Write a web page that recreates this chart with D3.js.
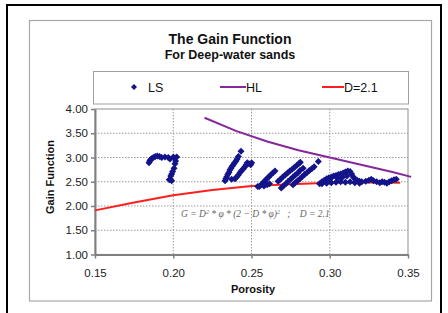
<!DOCTYPE html>
<html>
<head>
<meta charset="utf-8">
<script src="https://cdn.jsdelivr.net/npm/d3@7"></script>
<style>
  body { margin: 0; background: #fff; }
  svg { display: block; font-family: "Liberation Sans", Arial, sans-serif; }
</style>
</head>
<body>
<svg id="chart" width="448" height="313"></svg>
<script>
// tick labels
var xTicks = [0.15, 0.20, 0.25, 0.30, 0.35];
var yTicks = [1.00, 1.50, 2.00, 2.50, 3.00, 3.50, 4.00];

// LS scatter (porosity, gain)
var lsPhi = [
  0.1845, 0.1850, 0.1856, 0.1864, 0.1873, 0.1885, 0.1898, 0.1912, 0.1926, 0.1947, 0.1968, 0.1979, 0.2001, 0.2022,
  0.2015, 0.2011, 0.2005, 0.1996, 0.1990, 0.1984, 0.1979, 0.1990, 0.1975,
  0.2331, 0.2336, 0.2341, 0.2348, 0.2356, 0.2362, 0.2369, 0.2376, 0.2384, 0.2392, 0.2401, 0.2408, 0.2416, 0.2433,
  0.2373, 0.2395, 0.2405, 0.2416, 0.2427, 0.2437, 0.2448, 0.2458, 0.2466, 0.2473, 0.2484, 0.2495, 0.2501,
  0.2540, 0.2550, 0.2562, 0.2574, 0.2586, 0.2598, 0.2610, 0.2622, 0.2636, 0.2650, 0.2580, 0.2600, 0.2615,
  0.2670, 0.2685, 0.2700, 0.2715, 0.2730, 0.2745, 0.2760, 0.2775, 0.2790, 0.2805, 0.2812,
  0.2690, 0.2705, 0.2720, 0.2735, 0.2750, 0.2765, 0.2780, 0.2795, 0.2810, 0.2830,
  0.2765, 0.2780, 0.2795, 0.2810, 0.2825, 0.2840, 0.2855, 0.2870, 0.2885, 0.2900, 0.2927,
  0.2935, 0.2950, 0.2965, 0.2980, 0.2995, 0.3010, 0.3025, 0.3040, 0.3055, 0.3070, 0.3085, 0.3100, 0.3115, 0.3130,
  0.3140, 0.3150, 0.3160, 0.3175, 0.3190, 0.3205,
  0.2950, 0.2980, 0.3010, 0.3040, 0.3070, 0.3100, 0.3130, 0.3160, 0.3190,
  0.3000, 0.3050, 0.3080, 0.3110,
  0.3230, 0.3250, 0.3265, 0.3280, 0.3300, 0.3320, 0.3335, 0.3350, 0.3365, 0.3380, 0.3395, 0.3410, 0.3425
];
var lsGain = [
  2.89, 2.93, 2.96, 2.98, 3.00, 3.02, 3.03, 3.02, 3.00, 3.01, 3.00, 2.97, 3.01, 3.01,
  2.93, 2.87, 2.78, 2.71, 2.66, 2.62, 2.55, 2.52, 2.54,
  2.52, 2.56, 2.60, 2.65, 2.69, 2.74, 2.78, 2.82, 2.85, 2.89, 2.93, 2.97, 3.02, 3.13,
  2.55, 2.56, 2.60, 2.64, 2.69, 2.73, 2.77, 2.81, 2.85, 2.89, 2.87, 2.85, 2.89,
  2.40, 2.40, 2.44, 2.48, 2.52, 2.56, 2.60, 2.64, 2.68, 2.72, 2.41, 2.44, 2.46,
  2.51, 2.55, 2.60, 2.64, 2.68, 2.72, 2.76, 2.80, 2.84, 2.88, 2.90,
  2.37, 2.42, 2.46, 2.51, 2.55, 2.60, 2.64, 2.68, 2.73, 2.78,
  2.44, 2.48, 2.52, 2.56, 2.61, 2.65, 2.69, 2.73, 2.77, 2.81, 2.92,
  2.46, 2.50, 2.53, 2.56, 2.58, 2.60, 2.62, 2.63, 2.65, 2.66, 2.68, 2.70, 2.72, 2.71,
  2.66, 2.60, 2.56, 2.53, 2.51, 2.50,
  2.46, 2.47, 2.48, 2.49, 2.50, 2.49, 2.50, 2.48, 2.47,
  2.54, 2.57, 2.59, 2.62,
  2.51, 2.53, 2.55, 2.52, 2.50, 2.48, 2.50, 2.49, 2.47, 2.50, 2.52, 2.54, 2.55
];

// HL curve
var hlPhi  = [0.220, 0.240, 0.260, 0.280, 0.300, 0.320, 0.340, 0.352];
var hlGain = [3.82, 3.55, 3.33, 3.15, 3.00, 2.85, 2.70, 2.60];

// D=2.1 curve
var dPhi  = [0.150, 0.175, 0.200, 0.225, 0.250, 0.275, 0.300, 0.325, 0.345];
var dGain = [1.91, 2.07, 2.22, 2.33, 2.41, 2.45, 2.48, 2.49, 2.48];

var colLS = "#13138a", colHL = "#85289a", colD = "#ff1e1e";

var svg = d3.select("#chart");

// outer frame
svg.append("rect").attr("x", 7).attr("y", 5).attr("width", 434).attr("height", 320)
  .attr("fill", "#fff").attr("stroke", "#000").attr("stroke-width", 2);

// chart area
svg.append("rect").attr("x", 29.5).attr("y", 20.5).attr("width", 402).attr("height", 280.5)
  .attr("fill", "#fff").attr("stroke", "#a8a8a8").attr("stroke-width", 1.2);

svg.append("text").attr("x", 230).attr("y", 44).attr("text-anchor", "middle")
  .style("font-size", "14px").style("font-weight", "bold").attr("fill", "#111")
  .text("The Gain Function");
svg.append("text").attr("x", 230).attr("y", 59).attr("text-anchor", "middle")
  .style("font-size", "12.5px").style("font-weight", "bold").attr("fill", "#111")
  .text("For Deep-water sands");

// legend
var lg = svg.append("g");
lg.append("rect").attr("x", 93.5).attr("y", 71.5).attr("width", 315).attr("height", 32.5)
  .attr("fill", "#fff").attr("stroke", "#a0a0a0").attr("stroke-width", 1);
var diamond = "M0,-3.5L3.5,0L0,3.5L-3.5,0Z";
lg.append("path").attr("d", "M0,-3L3,0L0,3L-3,0Z").attr("transform", "translate(134,87)").attr("fill", colLS);
lg.append("text").attr("x", 148).attr("y", 92).style("font-size", "12.5px").attr("fill", "#111").text("LS");
lg.append("line").attr("x1", 220).attr("x2", 246).attr("y1", 87).attr("y2", 87)
  .attr("stroke", colHL).attr("stroke-width", 2);
lg.append("text").attr("x", 246).attr("y", 92).style("font-size", "12.5px").attr("fill", "#111").text("HL");
lg.append("line").attr("x1", 322).attr("x2", 344).attr("y1", 87).attr("y2", 87)
  .attr("stroke", colD).attr("stroke-width", 2);
lg.append("text").attr("x", 344).attr("y", 92).style("font-size", "12.5px").attr("fill", "#111").text("D=2.1");

// plot
var x = d3.scaleLinear().domain([0.15, 0.35]).range([95, 408]);
var y = d3.scaleLinear().domain([1, 4]).range([254.5, 109]);

var grid = svg.append("g").attr("stroke", "#9a9a9a").attr("stroke-dasharray", "1.5,1.5").attr("stroke-width", 1);
yTicks.slice(1, -1).forEach(function(v) {
  grid.append("line").attr("x1", x(0.15)).attr("x2", x(0.35)).attr("y1", y(v)).attr("y2", y(v));
});
xTicks.slice(1, -1).forEach(function(v) {
  grid.append("line").attr("x1", x(v)).attr("x2", x(v)).attr("y1", y(1)).attr("y2", y(4));
});

svg.append("rect").attr("x", x(0.15)).attr("y", y(4)).attr("width", x(0.35) - x(0.15)).attr("height", y(1) - y(4))
  .attr("fill", "none").attr("stroke", "#a0a0a0").attr("stroke-width", 1.2);

var xAxis = svg.append("g").attr("transform", "translate(0," + y(1) + ")")
  .call(d3.axisBottom(x).tickValues(xTicks).tickFormat(d3.format(".2f")).tickSize(4).tickSizeOuter(0).tickPadding(10));
var yAxis = svg.append("g").attr("transform", "translate(" + x(0.15) + ",0)")
  .call(d3.axisLeft(y).tickValues(yTicks).tickFormat(d3.format(".2f")).tickSize(4).tickSizeOuter(0).tickPadding(3));
[xAxis, yAxis].forEach(function(a) {
  a.select(".domain").attr("stroke", "#808080").attr("stroke-width", 2);
  a.selectAll(".tick line").attr("stroke", "#808080").attr("stroke-width", 1.5);
  a.selectAll(".tick text").attr("fill", "#222").style("font-size", "11.5px")
    .style("font-family", "'Liberation Sans', Arial, sans-serif");
});

svg.append("text").attr("x", 253).attr("y", 293).attr("text-anchor", "middle")
  .style("font-size", "11px").style("font-weight", "bold").attr("fill", "#111").text("Porosity");
svg.append("text").attr("transform", "translate(54,177) rotate(-90)").attr("text-anchor", "middle")
  .style("font-size", "11px").style("font-weight", "bold").attr("fill", "#111").text("Gain Function");

// curves
var line = d3.line().x(function(d) { return x(d[0]); }).y(function(d) { return y(d[1]); });
svg.append("path").datum(d3.zip(dPhi, dGain)).attr("d", line)
  .attr("fill", "none").attr("stroke", colD).attr("stroke-width", 2);
svg.append("path").datum(d3.zip(hlPhi, hlGain)).attr("d", line)
  .attr("fill", "none").attr("stroke", colHL).attr("stroke-width", 2);

// LS points
svg.append("g").selectAll("path").data(d3.zip(lsPhi, lsGain)).enter().append("path")
  .attr("d", diamond)
  .attr("transform", function(d) { return "translate(" + x(d[0]) + "," + y(d[1]) + ")"; })
  .attr("fill", colLS);

// formula annotation
var f = svg.append("text").attr("x", 181).attr("y", 217)
  .style("font-family", "'Liberation Serif', 'Times New Roman', serif").style("font-style", "italic")
  .style("font-size", "9.5px").style("white-space", "pre").attr("fill", "#666");
f.append("tspan").text("G = D");
f.append("tspan").attr("dy", -3).style("font-size", "6px").text("2");
f.append("tspan").attr("dy", 3).text(" * \u03C6 * (2 \u2212 D * \u03C6)");
f.append("tspan").attr("dy", -3).style("font-size", "6px").text("2");
f.append("tspan").attr("dy", 3).text("   ;    D = 2.1");
</script>
</body>
</html>
